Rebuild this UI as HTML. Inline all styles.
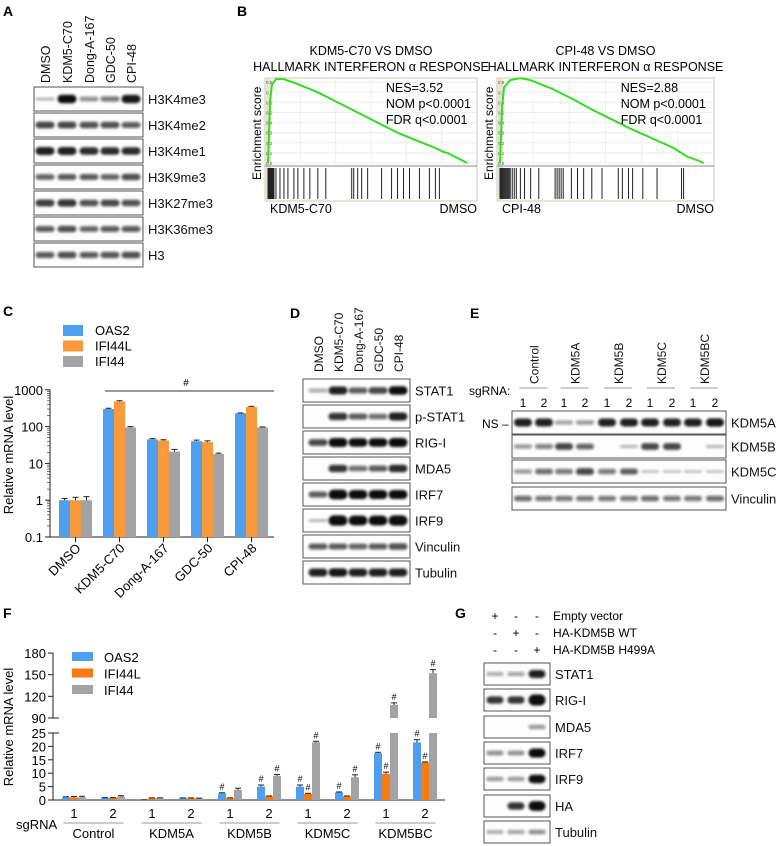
<!DOCTYPE html>
<html><head><meta charset="utf-8"><style>
body{margin:0;background:#fff;}
svg{display:block;font-family:"Liberation Sans",Arial,sans-serif;}
</style></head><body>
<svg id="fig" width="777" height="846" viewBox="0 0 777 846">
<defs><filter id="bl" x="-20%" y="-50%" width="140%" height="200%"><feGaussianBlur stdDeviation="1.2"/></filter></defs>
<g font-weight="bold" font-size="14">
<text x="3" y="16">A</text>
<text x="237" y="16">B</text>
<text x="3" y="316">C</text>
<text x="290" y="318">D</text>
<text x="470" y="318">E</text>
<text x="3" y="618">F</text>
<text x="455" y="618">G</text>
</g>
<g id="blots"></g>
<g id="gsea"></g>
<g id="chartC"></g>
<g id="chartF"></g>
</svg>
<script>
const NS="http://www.w3.org/2000/svg";
function el(tag,attrs,parent,txt){const e=document.createElementNS(NS,tag);for(const k in attrs)e.setAttribute(k,attrs[k]);if(txt!==undefined)e.textContent=txt;parent.appendChild(e);return e;}

// ---------- Western blots ----------
const B=document.getElementById('blots');
function blot(x,y,w,h,lanesX,intens,label,lx,bw){
  const g=el('g',{},B);
  
  
  el('rect',{x:x,y:y,width:w,height:h,fill:'#fdfdfd',stroke:'#555','stroke-width':1},g);
  lanesX.forEach((cx,i)=>{const v=intens[i];if(v<=0)return;
    const bh=2.5+v*6;
    el('rect',{x:cx-bw/2,y:y+h/2-bh/2,width:bw,height:bh,rx:bh/2,fill:'#111','fill-opacity':Math.min(1,0.2+v*0.8),filter:'url(#bl)'},g);});
  const t=el('text',{x:lx,y:y+h/2+5,'font-size':13,fill:'#111'},g,label);
  
}
function vlabel(x,y,txt,size){const t=el('text',{transform:`translate(${x},${y}) rotate(-90)`,'font-size':size||12.5,fill:'#111'},B,txt);
  }
// A
const aLanes=[45,67,89,110,131];
const aRows=['H3K4me3','H3K4me2','H3K4me1','H3K9me3','H3K27me3','H3K36me3','H3'];
const aInt=[[0.1,1,0.35,0.45,0.95],[0.7,0.7,0.65,0.65,0.6],[0.9,0.9,0.85,0.85,0.85],[0.55,0.6,0.6,0.55,0.65],[0.75,0.8,0.65,0.7,0.65],[0.6,0.65,0.55,0.6,0.6],[0.6,0.65,0.6,0.62,0.65]];
['DMSO','KDM5-C70','Dong-A-167','GDC-50','CPI-48'].forEach((s,i)=>vlabel(aLanes[i]+5,83,s));
aRows.forEach((r,i)=>blot(34,87+i*26,109,24,aLanes,aInt[i],r,148,19));
// D
const dLanes=[318,338,358,378,398];
['DMSO','KDM5-C70','Dong-A-167','GDC-50','CPI-48'].forEach((s,i)=>vlabel(dLanes[i]+5,372,s,12));
const dRows=['STAT1','p-STAT1','RIG-I','MDA5','IRF7','IRF9','Vinculin','Tubulin'];
const dInt=[[0.2,0.9,0.6,0.7,1],[0,0.8,0.6,0.5,0.9],[0.7,1.1,1,1,1.1],[0,0.8,0.5,0.6,0.85],[0.6,1.2,1.1,1.1,1.1],[0.1,1.3,1.2,1.2,1.3],[0.6,0.6,0.55,0.6,0.65],[0.9,0.95,0.9,0.9,0.9]];
dRows.forEach((r,i)=>blot(303,379+i*26,107,23,dLanes,dInt[i],r,415,19));
// E
const eLanes=[523,544,564,585,607,629,650,672,693,715];
const eRows=['KDM5A','KDM5B','KDM5C','Vinculin'];
const eInt=[[0.9,0.9,0.25,0.3,0.9,0.9,0.9,0.9,0.9,0.95],[0.3,0.4,0.7,0.55,0,0.1,0.7,0.7,0,0.1],[0.3,0.5,0.45,0.7,0.45,0.6,0.05,0.05,0.05,0.05],[0.5,0.45,0.45,0.45,0.45,0.45,0.5,0.45,0.45,0.5]];
const eY=[411,435,460,487];
eRows.forEach((r,i)=>blot(512,eY[i],214,23,eLanes,eInt[i],r,731,18));
['Control','KDM5A','KDM5B','KDM5C','KDM5BC'].forEach((s,i)=>{const cx=(eLanes[2*i]+eLanes[2*i+1])/2;
  vlabel(cx+5,384,s,12);
  const l=el('line',{x1:cx-14,x2:cx+14,y1:388,y2:388,stroke:'#999','stroke-width':1},B);});
eLanes.forEach((x,i)=>{const t=el('text',{x:x,y:407,'font-size':12,'text-anchor':'middle'},B,String(i%2+1));});
{const t=el('text',{x:469,y:395,'font-size':12},B,'sgRNA:');
 const n=el('text',{x:482,y:428,'font-size':12},B,'NS –');}
// G
const gLanes=[495,516,537];
const gRows=['STAT1','RIG-I','MDA5','IRF7','IRF9','HA','Tubulin'];
const gInt=[[0.2,0.25,0.9],[0.8,0.8,1.4],[0,0,0.3],[0.35,0.35,1.1],[0.3,0.3,1],[0,0.8,1.2],[0.2,0.25,0.35]];
const gY=[663,689,716,742,768,795,821];
gRows.forEach((r,i)=>blot(484,gY[i],66,22,gLanes,gInt[i],r,555,17));
const gSigns=[['+','-','-'],['-','+','-'],['-','-','+']];
const gNames=['Empty vector','HA-KDM5B WT','HA-KDM5B H499A'];
gSigns.forEach((row,r)=>{const y=620+r*17;row.forEach((s,c)=>{const t=el('text',{x:gLanes[c],y:y,'font-size':12,'text-anchor':'middle'},B,s);});
  const t=el('text',{x:553,y:y,'font-size':12},B,gNames[r]);});

// ---------- GSEA ----------
const esPos1=[0,0.01,0.02,0.04,0.08,0.15,0.25,0.35,0.45,0.55,0.65,0.75,0.85,0.88,0.9,0.95,1];
const esVal1=[0,0.6,0.78,0.83,0.83,0.78,0.7,0.6,0.5,0.4,0.3,0.22,0.14,0.11,0.1,0.05,0];
const hits1=[0,0.005,0.01,0.015,0.02,0.025,0.03,0.04,0.06,0.08,0.1,0.13,0.15,0.18,0.21,0.25,0.29,0.42,0.43,0.45,0.47,0.5,0.57,0.62,0.65,0.68,0.71,0.76,0.81,0.84,0.86];
const esPos2=[0,0.01,0.02,0.05,0.1,0.15,0.25,0.35,0.45,0.55,0.65,0.75,0.85,0.92,0.95,1];
const esVal2=[0,0.55,0.75,0.82,0.84,0.82,0.74,0.64,0.53,0.43,0.33,0.24,0.15,0.06,0.04,0];
const hits2=[0,0.005,0.01,0.015,0.02,0.025,0.03,0.035,0.04,0.045,0.05,0.06,0.07,0.08,0.1,0.12,0.15,0.19,0.27,0.28,0.29,0.3,0.31,0.35,0.38,0.41,0.45,0.5,0.58,0.6,0.63,0.65,0.7,0.77,0.89,0.9];
const G=document.getElementById('gsea');
function gsea(x0,x1,title,nes,leftLab,pos,val,hits,nm){
  const g=el('g',{},G);
  const top=78,es0=163,bot=201,w=x1-x0,px=x0+3,pw=w*0.94;
  el('rect',{x:x0,y:top,width:w,height:bot-top,fill:'#fff',stroke:'#c8c8b8'},g);
  el('rect',{x:x0,y:top,width:6,height:bot-top,fill:'#e9e4d2'},g);
  const ys=v=>es0-v*101;
  for(let v=0;v<=0.8001;v+=0.1){el('line',{x1:x0+6,x2:x1,y1:ys(v),y2:ys(v),stroke:'#eee'},g);
    el('text',{x:x0+1,y:ys(v)+2,'font-size':4.5,fill:'#555'},g,v.toFixed(1));}
  for(let i=1;i<6;i++)el('line',{x1:x0+w*i/6,x2:x0+w*i/6,y1:top,y2:es0,stroke:'#eee'},g);
  el('line',{x1:x0,x2:x1,y1:es0+3,y2:es0+3,stroke:'#888'},g);
  el('polyline',{points:pos.map((p,i)=>`${px+p*pw},${ys(val[i])}`).join(' '),fill:'none',stroke:'#33dd22','stroke-width':2},g);
  hits.forEach(h=>{el('line',{x1:px+h*pw,x2:px+h*pw,y1:es0+5,y2:bot-2,stroke:'#222','stroke-width':1},g);});
  el('text',{x:(x0+x1)/2,y:55,'font-size':12.5,'text-anchor':'middle'},g,title);
  el('text',{x:(x0+x1)/2,y:71,'font-size':12.5,'text-anchor':'middle'},g,'HALLMARK INTERFERON α RESPONSE');
  ['NES='+nes,'NOM p<0.0001','FDR q<0.0001'].forEach((s,i)=>el('text',{x:x0+w*0.57,y:92+i*16,'font-size':12.5},g,s));
  el('text',{x:x0+5,y:213,'font-size':12.5},g,leftLab);
  el('text',{x:x1,y:213,'font-size':12.5,'text-anchor':'end'},g,'DMSO');
  el('text',{transform:`translate(${x0-4},${180}) rotate(-90)`,'font-size':12},g,'Enrichment score');
}
gsea(265,477,'KDM5-C70 VS DMSO','3.52','KDM5-C70',esPos1,esVal1,hits1,'kdm5-c70');
gsea(497,714,'CPI-48 VS DMSO','2.88','CPI-48',esPos2,esVal2,hits2,'cpi-48');

// ---------- Chart C (log scale) ----------
const cCats=['DMSO','KDM5-C70','Dong-A-167','GDC-50','CPI-48'];
const cOAS2=[1,300,45,40,230];
const cIFI44L=[1,480,42,38,340];
const cIFI44=[1,95,21,18,95];
const cErr=[[0.12,15,2,3,5],[0.2,25,2,3,15],[0.25,5,3,1,3]];
const cTicks=[0.1,1,10,100,1000];
const cTickLabels=['0.1','1','10','100','1000'];
const colC=['#4f9ff0','#f99a3a','#a3a3a5'];
const C=document.getElementById('chartC');
(function(){
  const x0=50,x1=274,yb=537;const y=v=>yb-(Math.log10(v)+1)*36.8;
  const xc=i=>75.5+i*44;const bw=11;
  el('line',{x1:x0,x2:x0,y1:y(1000),y2:yb,stroke:'#222'},C);
  el('line',{x1:x0,x2:x1,y1:yb,y2:yb,stroke:'#222'},C);
  cTicks.forEach((t,i)=>{el('line',{x1:x0-5,x2:x0,y1:y(t),y2:y(t),stroke:'#222'},C);
    const tx=el('text',{x:x0-7,y:y(t)+5,'font-size':13,'text-anchor':'end'},C,cTickLabels[i]);
    if(i<4)for(let k=2;k<10;k++)el('line',{x1:x0-3,x2:x0,y1:y(t*k),y2:y(t*k),stroke:'#222','stroke-width':0.6},C);});
  [cOAS2,cIFI44L,cIFI44].forEach((s,si)=>s.forEach((v,i)=>{const bx=xc(i)-16.5+si*bw;
    const r=el('rect',{x:bx,y:y(v),width:bw,height:yb-y(v),fill:colC[si]},C);
    
    const ye=y(v+cErr[si][i]);el('line',{x1:bx+bw/2,x2:bx+bw/2,y1:y(v),y2:ye,stroke:'#222'},C);el('line',{x1:bx+bw/2-3,x2:bx+bw/2+3,y1:ye,y2:ye,stroke:'#222'},C);}));
  cCats.forEach((c,i)=>{el('line',{x1:xc(i),x2:xc(i),y1:yb,y2:yb+5,stroke:'#222'},C);
    const t=el('text',{transform:`translate(${xc(i)+6},${yb+12}) rotate(-45)`,'font-size':13,'text-anchor':'end'},C,c);});
  el('line',{x1:105,x2:274,y1:391,y2:391,stroke:'#333'},C);
  el('text',{x:186,y:386,'font-size':10,'text-anchor':'middle'},C,'#');
  const yt=el('text',{transform:'translate(13,455) rotate(-90)','font-size':13,'text-anchor':'middle'},C,'Relative mRNA level');
  ['OAS2','IFI44L','IFI44'].forEach((n,i)=>{const g=el('g',{},C);
    el('rect',{x:63,y:325+i*15.5,width:20,height:11,fill:colC[i]},g);el('text',{x:95,y:335+i*15.5,'font-size':13},g,n);});
})();

// ---------- Chart F (broken axis) ----------
const fGroups=['Control','KDM5A','KDM5B','KDM5C','KDM5BC'];
const fOAS2=[1,0.8,0.1,0.7,2.5,5,5,2.8,17.5,21.5];
const fIFI44L=[1,0.8,0.7,0.7,0.7,1.4,2.3,1.4,9.8,14];
const fIFI44=[1,1.3,0.7,0.6,3.8,9,21.5,8.5,108,152];
const fSig=[[0,0,0,0,1,1,1,1,1,1],[0,0,0,0,0,0,1,0,1,1],[0,0,0,0,0,1,1,1,1,1]];
const fErr=[[0.2,0.1,0,0.1,0.2,0.6,0.6,0.2,0.3,1],[0.3,0.1,0.1,0.1,0.1,0.1,0.2,0.1,0.6,0.2],[0.4,0.3,0.1,0.1,0.6,0.5,0.4,0.9,3,5]];
const fLowTicks=[0,5,10,15,20,25];
const fHighTicks=[90,120,150,180];
const colF=['#4f9ff0','#f97a12','#a3a3a5'];
const F=document.getElementById('chartF');
(function(){
  const x0=53,x1=445,yb=800;
  const y=v=>v<=25?yb-v*2.68:718-(v-90)*0.722;
  const xc=i=>74+Math.floor(i/2)*78+(i%2)*39;const bw=8;
  el('line',{x1:x0,x2:x0,y1:y(180),y2:y(90),stroke:'#222'},F);
  el('line',{x1:x0,x2:x0,y1:y(25),y2:yb,stroke:'#222'},F);
  el('line',{x1:x0,x2:x1,y1:yb,y2:yb,stroke:'#222'},F);
  fLowTicks.concat(fHighTicks).forEach(t=>{el('line',{x1:x0-5,x2:x0,y1:y(t),y2:y(t),stroke:'#222'},F);
    const tx=el('text',{x:x0-7,y:y(t)+5,'font-size':13,'text-anchor':'end'},F,String(t));});
  el('line',{x1:x0,x2:x0+6,y1:y(90),y2:y(90),stroke:'#222'},F);el('line',{x1:x0,x2:x0+6,y1:y(25),y2:y(25),stroke:'#222'},F);
  [fOAS2,fIFI44L,fIFI44].forEach((s,si)=>s.forEach((v,i)=>{const bx=xc(i)-12+si*bw;
    let r;
    if(v<=25){r=el('rect',{x:bx,y:y(v),width:bw,height:yb-y(v),fill:colF[si]},F);}
    else{r=el('rect',{x:bx,y:y(25),width:bw,height:yb-y(25),fill:colF[si]},F);el('rect',{x:bx,y:y(v),width:bw,height:y(90)-y(v),fill:colF[si]},F);}
    
    const ye=y(v+fErr[si][i]);el('line',{x1:bx+bw/2,x2:bx+bw/2,y1:y(v),y2:ye,stroke:'#222'},F);el('line',{x1:bx+1,x2:bx+bw-1,y1:ye,y2:ye,stroke:'#222'},F);
    if(fSig[si][i])el('text',{x:bx+bw/2,y:ye-3,'font-size':9,'text-anchor':'middle'},F,'#');}));
  for(let i=0;i<10;i++){const t=el('text',{x:xc(i),y:818,'font-size':13,'text-anchor':'middle'},F,String(i%2+1));}
  fGroups.forEach((gname,g)=>{const cx=(xc(2*g)+xc(2*g+1))/2;el('line',{x1:cx-30,x2:cx+30,y1:823,y2:823,stroke:'#999'},F);
    const t=el('text',{x:cx,y:838,'font-size':13,'text-anchor':'middle'},F,gname);});
  el('text',{x:16,y:829,'font-size':13},F,'sgRNA');
  const yt=el('text',{transform:'translate(13,727) rotate(-90)','font-size':13,'text-anchor':'middle'},F,'Relative mRNA level');
  ['OAS2','IFI44L','IFI44'].forEach((n,i)=>{const g=el('g',{},F);
    el('rect',{x:72,y:652+i*16.5,width:21,height:9,fill:colF[i]},g);el('text',{x:104,y:662+i*16.5,'font-size':13},g,n);});
})();
</script>
</body></html>
